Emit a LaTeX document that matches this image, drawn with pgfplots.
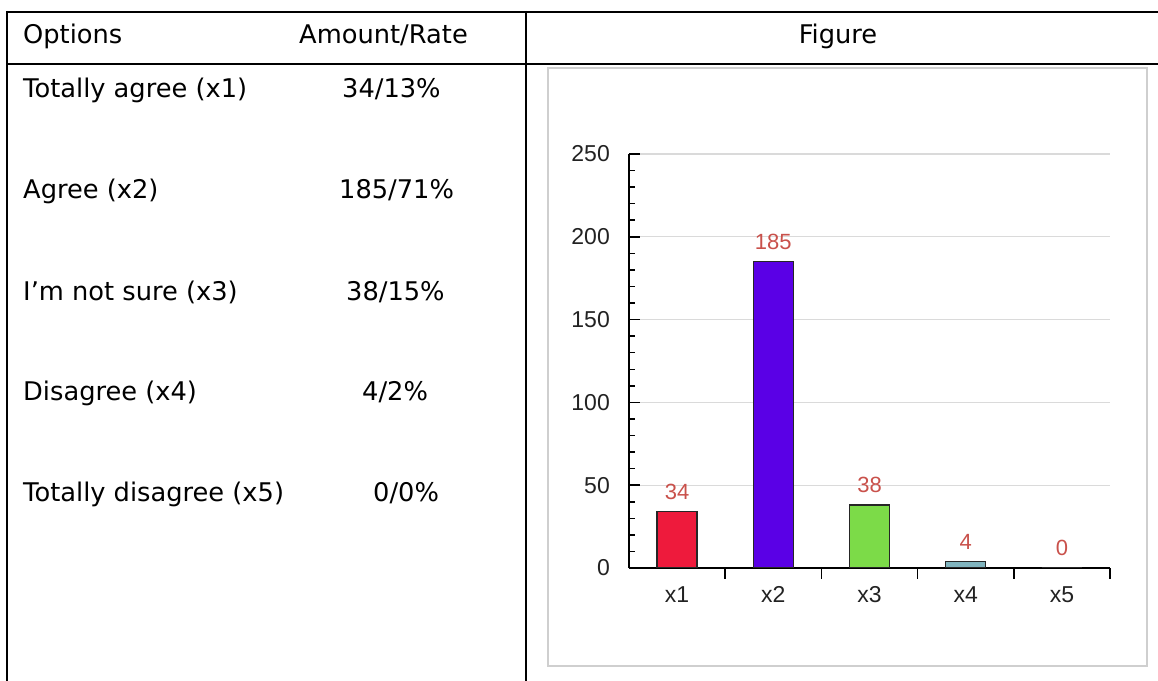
\documentclass[border=0pt]{standalone}
\usepackage{fontspec}
\setmainfont{DejaVu Sans}
\newfontfamily\chartfont{Liberation Sans}
\usepackage{pgfplots}
\pgfplotsset{compat=1.18}

\definecolor{gridgray}{HTML}{DADADA}
\definecolor{panelgray}{HTML}{CFCFCF}
\definecolor{valred}{HTML}{C9514B}
\definecolor{ticktext}{HTML}{222222}
\definecolor{barone}{HTML}{EE1A3C}
\definecolor{bartwo}{HTML}{5A00E6}
\definecolor{barthree}{HTML}{7CDB48}
\definecolor{barfour}{HTML}{80B4BE}
\definecolor{barfive}{HTML}{D0D0D0}

\newcommand\tabtext{\fontsize{25.7bp}{30bp}\selectfont}
\newcommand\charttext{\chartfont\fontsize{23bp}{27bp}\selectfont}
\newcommand\valtext{\chartfont\fontsize{22bp}{26bp}\selectfont}

\begin{document}
\begin{tikzpicture}
\useasboundingbox (0,0) rectangle (1158bp,681bp);
\begin{scope}[x=1bp,y=1bp]
  % table rules
  \draw[line width=2.2bp] (6,669) -- (1170,669);
  \draw[line width=2.2bp] (6,617) -- (1170,617);
  \draw[line width=2.2bp] (7,670) -- (7,-5);
  \draw[line width=2.2bp] (526,670) -- (526,-5);
  % frame around the figure cell
  \draw[panelgray, line width=1.5bp] (548,15) rectangle (1147,613);
  % header
  \node[anchor=base west, inner sep=0] at (23,637) {\tabtext Options};
  \node[anchor=base west, inner sep=0] at (299,637) {\tabtext Amount/Rate};
  \node[anchor=base, inner sep=0] at (838,637) {\tabtext Figure};
  % rows
  \node[anchor=base west, inner sep=0] at (23,583) {\tabtext Totally agree (x1)};
  \node[anchor=base west, inner sep=0] at (342,583) {\tabtext 34/13\%};
  \node[anchor=base west, inner sep=0] at (23,482) {\tabtext Agree (x2)};
  \node[anchor=base west, inner sep=0] at (339,482) {\tabtext 185/71\%};
  \node[anchor=base west, inner sep=0] at (23,381) {\tabtext I’m not sure (x3)};
  \node[anchor=base west, inner sep=0] at (346,381) {\tabtext 38/15\%};
  \node[anchor=base west, inner sep=0] at (23,281) {\tabtext Disagree (x4)};
  \node[anchor=base west, inner sep=0] at (362,281) {\tabtext 4/2\%};
  \node[anchor=base west, inner sep=0] at (23,180) {\tabtext Totally disagree (x5)};
  \node[anchor=base west, inner sep=0] at (373,180) {\tabtext 0/0\%};
\end{scope}

\begin{axis}[
  at={(629bp,113bp)}, anchor=south west,
  scale only axis, width=481bp, height=414bp,
  xmin=0.5, xmax=5.5, ymin=0, ymax=250,
  axis x line=bottom, axis y line=left,
  axis line style={-, black, line width=1.8bp},
  /pgf/number format/assume math mode=true,
  xtick={1.5,2.5,3.5,4.5,5.5}, xticklabels={},
  extra x ticks={1,2,3,4,5},
  extra x tick labels={x1,x2,x3,x4,x5},
  extra x tick style={major tick length=0pt},
  ytick={0,50,...,250}, minor y tick num=4,
  tick align=inside,
  major tick length=10.5bp, minor tick length=6bp,
  every tick/.style={black, line width=1.5bp},
  ymajorgrids, major grid style={gridgray, line width=1.3bp},
  tick label style={font=\charttext, text=ticktext},
  yticklabel style={anchor=east, inner sep=0pt, xshift=-19bp},
  xticklabel style={anchor=base, inner sep=0pt, yshift=-34bp},
  ybar, bar width=40bp,
  nodes near coords,
  every node near coord/.append style={font=\valtext, text=valred, inner sep=0pt, yshift=11.5bp},
]
\addplot[bar shift=0pt, fill=barone, draw=black!85, line width=1.5bp] coordinates {(1,34)};
\addplot[bar shift=0pt, fill=bartwo, draw=black!85, line width=1.5bp] coordinates {(2,185)};
\addplot[bar shift=0pt, fill=barthree, draw=black!85, line width=1.5bp] coordinates {(3,38)};
\addplot[bar shift=0pt, fill=barfour, draw=black!85, line width=1.5bp] coordinates {(4,4)};
\addplot[bar shift=0pt, fill=barfive, draw=black!85, line width=1.5bp] coordinates {(5,0)};
\end{axis}
\end{tikzpicture}
\end{document}
